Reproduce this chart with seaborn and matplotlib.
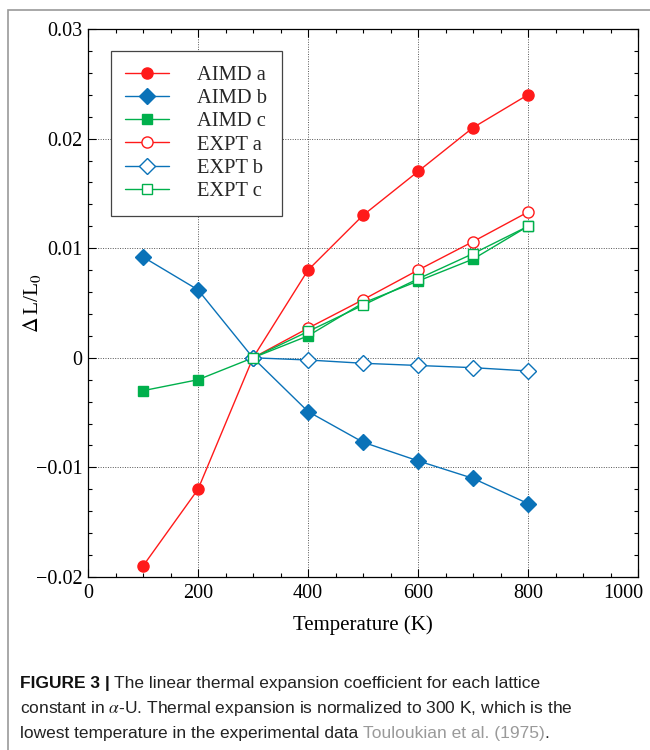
import pandas as pd
import matplotlib.pyplot as plt
import seaborn as sns
from matplotlib.ticker import MultipleLocator, FuncFormatter
from matplotlib.patches import Rectangle
from matplotlib.transforms import ScaledTranslation

# data
temp_aimd = [100, 200, 300, 400, 500, 600, 700, 800]
aimd_a = [-0.019, -0.012, 0.0, 0.008, 0.013, 0.017, 0.021, 0.024]
aimd_b = [0.0092, 0.0062, 0.0, -0.0049, -0.0077, -0.0094, -0.0110, -0.0133]
aimd_c = [-0.0030, -0.0020, 0.0, 0.0020, 0.0050, 0.0070, 0.0090, 0.0120]

temp_expt = [300, 400, 500, 600, 700, 800]
expt_a = [0.0, 0.0027, 0.0053, 0.0080, 0.0106, 0.0133]
expt_b = [0.0, -0.0002, -0.0005, -0.0007, -0.0009, -0.0012]
expt_c = [0.0, 0.0024, 0.0048, 0.0072, 0.0095, 0.0120]

red = "#ff1a1a"
blue = "#0a72b8"
green = "#00b04c"

sns.set_theme(style="white")
plt.rcParams["font.family"] = ["Liberation Serif", "DejaVu Serif"]
plt.rcParams["mathtext.fontset"] = "stix"

fig = plt.figure(figsize=(6.5, 7.5), dpi=100)
ax = fig.add_axes([88 / 650, 1 - 577 / 750, 550 / 650, 548 / 750])

# outer frame of the figure panel
fig.patches.append(Rectangle((0.012, -0.01), 0.99, 0.997, transform=fig.transFigure,
                             fill=False, edgecolor="#9a9a9a", linewidth=1.2))

series = [
    ("AIMD a", temp_aimd, aimd_a, red, "o", True, 8),
    ("AIMD b", temp_aimd, aimd_b, blue, "D", True, 8.5),
    ("AIMD c", temp_aimd, aimd_c, green, "s", True, 7.5),
    ("EXPT a", temp_expt, expt_a, red, "o", False, 8),
    ("EXPT b", temp_expt, expt_b, blue, "D", False, 8.5),
    ("EXPT c", temp_expt, expt_c, green, "s", False, 7.5),
]

for label, x, y, color, marker, filled, ms in series:
    df = pd.DataFrame({"Temperature": x, "dL": y})
    sns.lineplot(data=df, x="Temperature", y="dL", ax=ax, color=color, label=label,
                 linewidth=1.0, marker=marker, markersize=ms,
                 markerfacecolor=color if filled else "white",
                 markeredgecolor=color, markeredgewidth=1.0, zorder=3)

ax.set_xlim(0, 1000)
ax.set_ylim(-0.02, 0.03)
ax.xaxis.set_major_locator(MultipleLocator(200))
ax.xaxis.set_minor_locator(MultipleLocator(50))
ax.yaxis.set_major_locator(MultipleLocator(0.01))
ax.yaxis.set_minor_locator(MultipleLocator(0.002))

def yfmt(v, pos):
    if abs(v) < 1e-9:
        return "0"
    return f"{v:.2f}".replace("-", "\u2212")

ax.yaxis.set_major_formatter(FuncFormatter(yfmt))
ax.tick_params(which="both", direction="in", top=True, right=True, bottom=True, left=True,
               labelsize=14.5, colors="black")
ax.tick_params(which="major", length=6, width=0.8)
ax.tick_params(which="minor", length=3, width=0.8)
ax.tick_params(axis="x", which="major", pad=5)
ax.tick_params(axis="y", which="major", pad=4)
ax.grid(True, which="major", linestyle=(0, (1, 1.5)), color="#555555", linewidth=0.7)
for s in ax.spines.values():
    s.set_color("black")
    s.set_linewidth(0.9)

ax.set_xlabel("Temperature (K)", fontsize=15, color="black", labelpad=9)
ax.set_ylabel(r"$\Delta\,$L/L$_0$", fontsize=15.5, color="black", labelpad=-5)

leg = ax.legend(loc="upper left", bbox_to_anchor=(0.042, 0.96), fontsize=14.8,
                frameon=True, fancybox=False, edgecolor="#444444", framealpha=1,
                handlelength=2.1, borderpad=0.7, labelspacing=0.19, handletextpad=1.4,
                borderaxespad=0)
leg.get_frame().set_linewidth(0.9)

# last x tick label sits inside the frame like in the reference
fig.canvas.draw()
for tick in ax.xaxis.get_major_ticks():
    if abs(tick.get_loc() - 1000) < 1e-6:
        tick.label1.set_horizontalalignment("right")
        tick.label1.set_transform(tick.label1.get_transform()
                                  + ScaledTranslation(5 / 100, 0, fig.dpi_scale_trans))

# caption with bold lead and grey reference
cap_font = ["Liberation Sans", "DejaVu Sans"]
r = fig.canvas.get_renderer()
t0 = fig.text(20 / 650, 1 - 688 / 750, "FIGURE 3 |", fontsize=12.5, fontweight="bold",
              family=cap_font, color="#111111")
bb = t0.get_window_extent(r)
fig.text((bb.x1 + 4) / 650, 1 - 688 / 750,
         "The linear thermal expansion coefficient for each lattice",
         fontsize=12.5, family=cap_font, color="#222222")
fig.text(20 / 650, 1 - 713 / 750,
         r"constant in $\alpha$-U. Thermal expansion is normalized to 300 K, which is the",
         fontsize=12.5, family=cap_font, color="#222222")
t3 = fig.text(20 / 650, 1 - 738 / 750, "lowest temperature in the experimental data ",
              fontsize=12.5, family=cap_font, color="#222222")
bb3 = t3.get_window_extent(r)
t4 = fig.text(bb3.x1 / 650, 1 - 738 / 750, "Touloukian et al. (1975)",
              fontsize=12.5, family=cap_font, color="#9a9a9a")
bb4 = t4.get_window_extent(r)
fig.text(bb4.x1 / 650, 1 - 738 / 750, ".", fontsize=12.5, family=cap_font, color="#222222")

fig.savefig("out.png", dpi=100)
